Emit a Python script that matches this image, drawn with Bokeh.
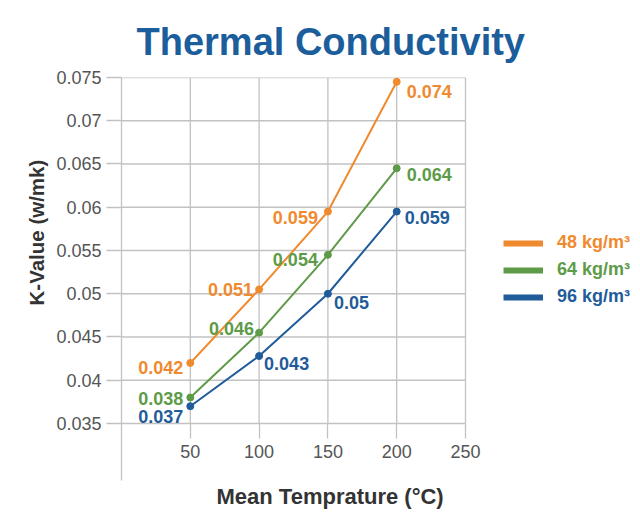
from bokeh.plotting import figure
from bokeh.models import (Range1d, FixedTicker, CustomJSTickFormatter, Title,
                          Legend, LegendItem, ColumnDataSource)
from bokeh.core.properties import value
from bokeh.embed import file_html
from bokeh.resources import INLINE

# ---- data ----
temps = [50, 100, 150, 200]
k_48 = [0.042, 0.0505, 0.0595, 0.0745]
k_64 = [0.038, 0.0455, 0.0545, 0.0645]
k_96 = [0.037, 0.0428, 0.0500, 0.0595]
lab_48 = ["0.042", "0.051", "0.059", "0.074"]
lab_64 = ["0.038", "0.046", "0.054", "0.064"]
lab_96 = ["0.037", "0.043", "0.05", "0.059"]
series_names = ["48 kg/m\u00b3", "64 kg/m\u00b3", "96 kg/m\u00b3"]
x_ticks = [50, 100, 150, 200, 250]
y_ticks = [0.035, 0.04, 0.045, 0.05, 0.055, 0.06, 0.065, 0.07, 0.075]
y_tick_labels = ["0.035", "0.04", "0.045", "0.05", "0.055", "0.06", "0.065", "0.07", "0.075"]

# ---- label placement (styles) ----
place_48 = dict(dx=[-7, -6, -10, 10], dy=[5, 0, 6, 10], align=["right", "right", "right", "left"])
place_64 = dict(dx=[-7, -5, -10, 10], dy=[1, -4, 5, 6], align=["right", "right", "right", "left"])
place_96 = dict(dx=[-7, 5, 6, 8], dy=[10, 7, 9, 6], align=["right", "left", "left", "left"])

ORANGE = "#f08a2e"
GREEN = "#5e9b48"
BLUE = "#1f5c99"
GRID = "#c2c2c2"
FONT = "Liberation Sans"

# frame: x 0..250 spans 344px; frame runs to the right canvas edge for the legend
p = figure(width=640, height=514, output_backend="svg", toolbar_location=None,
           x_range=Range1d(0, 377.18), y_range=Range1d(0.02841, 0.075),
           min_border_left=121, min_border_right=0, min_border_top=77,
           min_border_bottom=34, title="Thermal Conductivity")
p.background_fill_color = "white"
p.border_fill_color = "white"
p.outline_line_color = None

# title
p.title.align = "left"
p.title.offset = 15
p.title.text_font = FONT
p.title.text_font_size = "38px"
p.title.text_font_style = "bold"
p.title.text_color = "#1b5e9b"
p.title.standoff = 30

# grid (drawn only over the 0..250 plotting area)
p.xgrid.visible = False
p.ygrid.visible = False
p.segment(x0=x_ticks, y0=[y_ticks[0]] * len(x_ticks), x1=x_ticks,
          y1=[y_ticks[-1]] * len(x_ticks), line_color=GRID, line_width=1.3)
p.segment(x0=[0] * len(y_ticks), y0=y_ticks, x1=[x_ticks[-1]] * len(y_ticks),
          y1=y_ticks, line_color=GRID, line_width=1.3)

# axes
for ax in (p.xaxis[0], p.yaxis[0]):
    ax.axis_line_color = GRID
    ax.axis_line_width = 1.3
    ax.major_tick_line_color = GRID
    ax.major_tick_line_width = 1.3
    ax.major_tick_in = 0
    ax.major_tick_out = 15
    ax.minor_tick_line_color = None
    ax.major_label_text_font = FONT
    ax.major_label_text_font_size = "18px"
    ax.major_label_text_color = "#555555"

p.xaxis.ticker = FixedTicker(ticks=x_ticks)
p.xaxis.fixed_location = y_ticks[0]
p.xaxis.axis_line_color = None
p.xaxis.major_label_standoff = 7
p.yaxis.ticker = FixedTicker(ticks=y_ticks)
p.yaxis.major_label_standoff = 5
p.yaxis.formatter = CustomJSTickFormatter(args=dict(yt=y_ticks, yl=y_tick_labels), code="""
let best = 0, bd = Infinity;
for (let i = 0; i < yt.length; i++) {
  const d = Math.abs(yt[i] - tick);
  if (d < bd) { bd = d; best = i; }
}
return yl[best];
""")

p.add_layout(Title(text="K-Value (w/mk)", align="left", offset=175, text_font=FONT,
                   text_font_size="20.5px", text_font_style="bold", text_color="#333333",
                   vertical_align="top", standoff=7), "left")
p.add_layout(Title(text="Mean Temprature (\u00b0C)", align="left", offset=95, text_font=FONT,
                   text_font_size="22px", text_font_style="bold", text_color="#333333",
                   standoff=3), "below")

# series
series = [(k_48, lab_48, place_48, ORANGE), (k_64, lab_64, place_64, GREEN),
          (k_96, lab_96, place_96, BLUE)]
legend_rows = [227, 200, 173]
for (vals, labs, plc, col), name, vy in zip(series, series_names, legend_rows):
    p.line(temps, vals, line_color=col, line_width=2)
    p.scatter(temps, vals, size=7, color=col)
    src = ColumnDataSource(dict(x=temps, y=vals, t=labs, dx=plc["dx"], dy=plc["dy"], al=plc["align"]))
    p.text(x="x", y="y", text="t", x_offset="dx", y_offset="dy", text_align="al",
           text_baseline="middle", text_font=value(FONT), text_font_size="18px",
           text_font_style="bold", text_color=col, source=src)
    # hidden thick-line renderer that only supplies the legend swatch
    swatch = p.line(temps, vals, line_color=col, line_width=6, visible=False)
    leg = Legend(items=[LegendItem(label=name, renderers=[swatch])], location=(382, vy),
                 glyph_width=40, glyph_height=20, label_height=20, label_standoff=14,
                 padding=0, margin=0, border_line_color=None, background_fill_alpha=0,
                 inactive_fill_alpha=0,
                 label_text_font=FONT, label_text_font_size="18px",
                 label_text_font_style="bold", label_text_color=col)
    p.add_layout(leg)

open("out.html", "w").write(file_html(p, INLINE))
